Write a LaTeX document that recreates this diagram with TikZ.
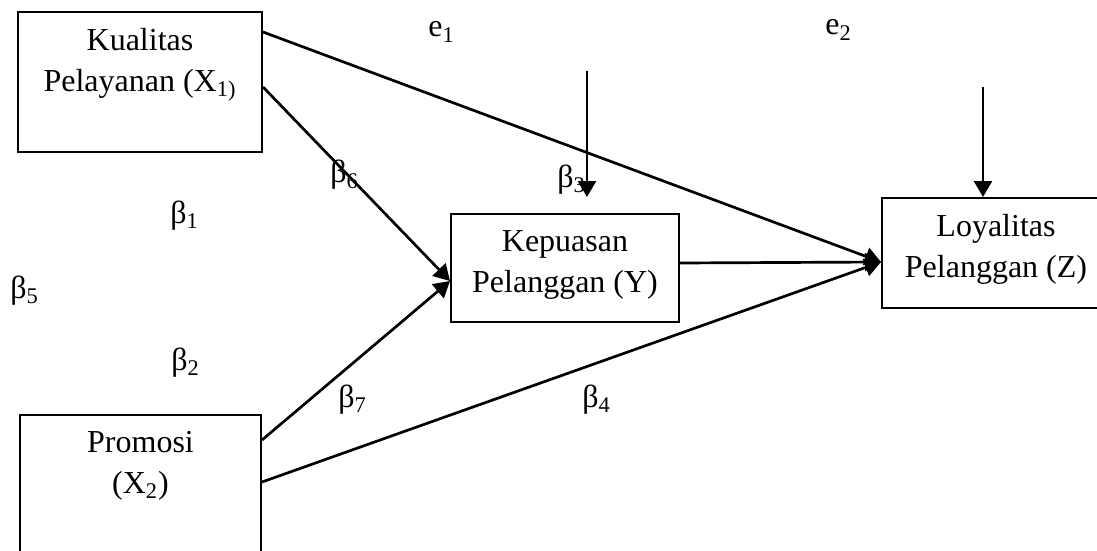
\documentclass[tikz,border=0pt]{standalone}
\usepackage{fontspec}
\setmainfont{Liberation Serif}
\usetikzlibrary{arrows.meta}

\begin{document}
\begin{tikzpicture}[x=0.5pt,y=-0.5pt,
  kotak/.style={draw,line width=1pt,inner sep=0pt},
  isi/.style={anchor=north,inner sep=0pt,align=center,
    font=\fontsize{16}{20.5}\selectfont},
  teks/.style={anchor=base west,inner sep=0pt,font=\fontsize{16}{18}\selectfont},
  panah/.style={line width=1.35pt,-{Triangle[length=8pt,width=9pt]}}]

  \useasboundingbox (0,0) rectangle (1097,551);
  \clip (0,0) rectangle (1097,551);

  % Kotak variabel
  \node[kotak,minimum width=122pt,minimum height=70pt] (x1) at (140,82) {};
  \node[kotak,minimum width=120.5pt,minimum height=70pt] (x2) at (140.5,485) {};
  \node[kotak,minimum width=114pt,minimum height=54pt] (y) at (565,268) {};
  \node[kotak,minimum width=114pt,minimum height=55pt] (z) at (996,253) {};

  % Isi kotak
  \node[isi] (x1t) at ([yshift=-8.5pt]x1.north) {Kualitas\\Pelayanan (X\textsubscript{1)}};
  \node[isi] (x2t) at ([yshift=-8.5pt]x2.north) {Promosi\\(X\textsubscript{2})};
  \node[isi] (yt) at ([yshift=-8.5pt]y.north) {Kepuasan\\Pelanggan (Y)};
  \node[isi] (zt) at ([yshift=-8.5pt]z.north) {Loyalitas\\Pelanggan (Z)};

  % Galat
  \node[teks] (e1) at (428,37) {e\textsubscript{1}};
  \node[teks] (e2) at (825,35) {e\textsubscript{2}};
  \coordinate (e1a) at (587,71);
  \coordinate (e1b) at (587,197);
  \draw[panah] (e1a) -- (e1b);
  \coordinate (e2a) at ([xshift=-6.5pt,yshift=55pt]z.north);
  \draw[panah] (e2a) -- ([xshift=-6.5pt]z.north);

  % Jalur
  \draw[panah] ([yshift=-10.5pt]x1.north east) -- ([yshift=-4.5pt]z.west);
  \draw[panah] ([yshift=-38pt]x1.north east) -- ([yshift=-6.5pt]y.west);
  \draw[panah] ([yshift=-13pt]x2.north east) -- ([yshift=-6.5pt]y.west);
  \draw[panah] ([yshift=-34pt]x2.north east) -- ([yshift=-4.5pt]z.west);
  \draw[panah] ([yshift=2.5pt]y.east) -- ([yshift=-4.5pt]z.west);

  % Koefisien
  \node[teks] (b1) at (170,223) {β\textsubscript{1}};
  \node[teks] (b2) at (171,370) {β\textsubscript{2}};
  \node[teks] (b3) at (557,187) {β\textsubscript{3}};
  \node[teks] (b4) at (582,407) {β\textsubscript{4}};
  \node[teks] (b5) at (10,298) {β\textsubscript{5}};
  \node[teks] (b6) at (330,183) {β\textsubscript{6}};
  \node[teks] (b7) at (338,407) {β\textsubscript{7}};

\end{tikzpicture}
\end{document}
